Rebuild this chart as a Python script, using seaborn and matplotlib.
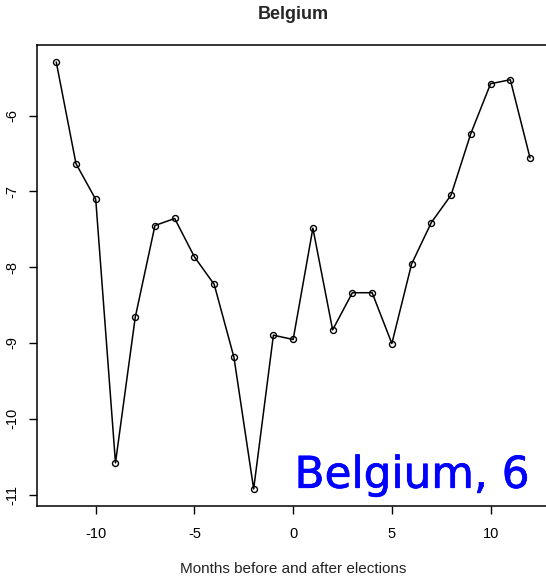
import matplotlib
matplotlib.use("Agg")
import matplotlib.pyplot as plt
import matplotlib.patheffects as pe
import seaborn as sns
import pandas as pd

months = list(range(-12, 13))
values = [-5.295, -6.635, -7.107, -10.581, -8.663, -7.451, -7.358, -7.865,
          -8.227, -9.188, -10.925, -8.897, -8.954, -7.486, -8.827, -8.337,
          -8.337, -9.007, -7.958, -7.411, -7.049, -6.238, -5.581, -5.528, -6.56]
x_ticks = [-10, -5, 0, 5, 10]
y_ticks = [-6, -7, -8, -9, -10, -11]
title = "Belgium"
xlabel = "Months before and after elections"
annotation = "Belgium, 6"

df = pd.DataFrame({"month": months, "value": values})

sns.set_style("white")
plt.rcParams["font.family"] = ["Liberation Sans", "DejaVu Sans"]

fig = plt.figure(figsize=(5.46, 5.77), dpi=100)
ax = fig.add_axes([37.3 / 546, 1 - 506 / 577, (549 - 37.3) / 546, (506 - 45) / 577])

sns.lineplot(data=df, x="month", y="value", ax=ax, color="black", linewidth=1.1,
             marker="o", markersize=4.3, markerfacecolor="none",
             markeredgecolor="black", markeredgewidth=1.0)

ax.set_xlim(-12.96, 12.96)
ax.set_ylim(-11.15, -5.07)
ax.set_xticks(x_ticks)
ax.set_xticklabels([str(t) for t in x_ticks], fontsize=10.5)
ax.set_yticks(y_ticks)
ax.set_yticklabels([str(t) for t in y_ticks], fontsize=10.5, rotation=90, va="center")
ax.tick_params(axis="both", direction="out", length=6, width=1, color="black",
               labelcolor="black", bottom=True, left=True)
ax.tick_params(axis="x", pad=9)
ax.tick_params(axis="y", pad=7)
for s in ax.spines.values():
    s.set_color("black")
    s.set_linewidth(1.1)
ax.spines["right"].set_visible(False)

ax.set_xlabel(xlabel, fontsize=11, labelpad=15, color="#222222")
ax.set_ylabel("")
ax.set_title(title, fontsize=13, fontweight="bold", pad=19)

ax.text(0.962, 0.02, annotation, transform=ax.transAxes, ha="right", va="bottom",
        fontsize=31.5, color="#0000ff", family=["DejaVu Sans"],
        path_effects=[pe.withStroke(linewidth=0.5, foreground="#0000ff")])

fig.savefig("out.png", dpi=100)
